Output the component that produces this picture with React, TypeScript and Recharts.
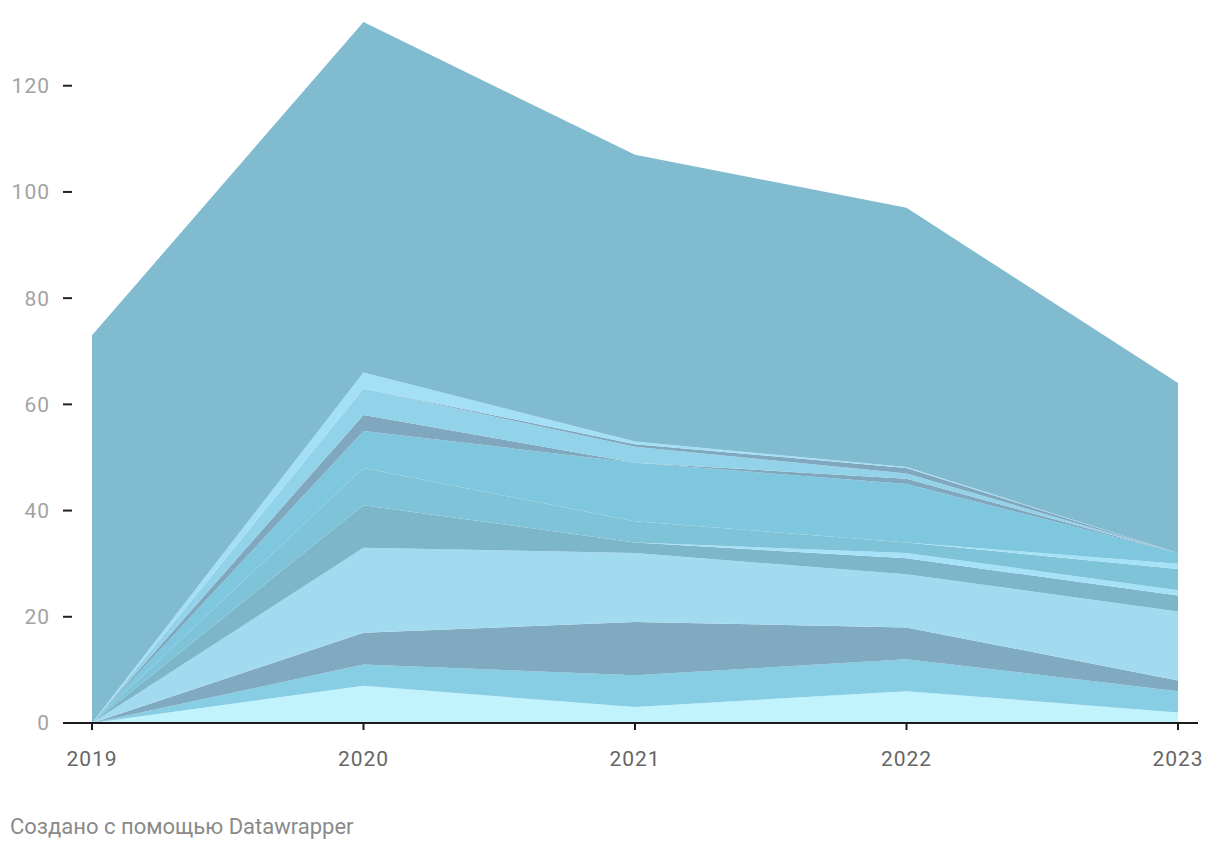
import { Area, AreaChart, XAxis, YAxis } from 'recharts';

const YEARS = ['2019', '2020', '2021', '2022', '2023'];

// stacked layers, bottom to top
const L1 = [0, 7, 3, 6, 2];
const L2 = [0, 4, 6, 6, 4];
const L3 = [0, 6, 10, 6, 2];
const L4 = [0, 16, 13, 10, 13];
const L5 = [0, 8, 2, 3, 3];
const L6 = [0, 0, 0, 1, 1];
const L7 = [0, 7, 4, 2, 4];
const L8 = [0, 0, 0, 0, 1];
const L9 = [0, 7, 11, 11, 2];
const L10 = [0, 3, 0, 1, 0];
const L11 = [0, 5, 3, 1, 0];
const L12 = [0, 0, 0.5, 1, 0];
const L13 = [0, 3, 0.5, 0.2, 0];
const L14 = [73, 66, 54, 48.8, 32];

const LAYERS = [L1, L2, L3, L4, L5, L6, L7, L8, L9, L10, L11, L12, L13, L14];
const COLORS = [
  '#c1f3fd',
  '#87cde4',
  '#7faac0',
  '#a2dbf0',
  '#7db5c9',
  '#a5e2f7',
  '#7fc3d8',
  '#a5e2f7',
  '#7ec7de',
  '#7fa8be',
  '#93d3ea',
  '#7fa8be',
  '#a3e0f6',
  '#80bbd0',
];

const Y_TICKS = [0, 20, 40, 60, 80, 100, 120];

const data = YEARS.map((year, i) => {
  const row: Record<string, string | number> = { year };
  LAYERS.forEach((layer, k) => {
    row['s' + k] = layer[i];
  });
  return row;
});

const YTick = (props: any) => {
  const { x, y, payload } = props;
  return (
    <g>
      <text
        x={x - 13}
        y={y}
        dy="0.35em"
        textAnchor="end"
        fill="#a3a3a3"
        fontSize={21}
        letterSpacing={1}
        fontFamily="Roboto"
      >
        {payload.value}
      </text>
      {payload.value !== 0 && <line x1={x} x2={x + 9} y1={y} y2={y} stroke="#222" strokeWidth={2} />}
    </g>
  );
};

export default function App() {
  return (
    <div style={{ position: 'relative', width: 1204, height: 834, fontFamily: 'Roboto' }}>
      <AreaChart width={1204} height={770} data={data} margin={{ top: 14, right: 14, bottom: 0, left: 0 }}>
        <XAxis
          dataKey="year"
          padding={{ left: 29, right: 20 }}
          axisLine={{ stroke: '#1a1a1a', strokeWidth: 2 }}
          tickLine={{ stroke: '#1a1a1a', strokeWidth: 2 }}
          tickSize={7}
          tickMargin={21}
          height={55}
          tick={{ fill: '#666', fontSize: 21, letterSpacing: 1, fontFamily: 'Roboto' }}
        />
        <YAxis
          width={55}
          domain={[0, 132]}
          ticks={Y_TICKS}
          axisLine={false}
          tickLine={false}
          tickSize={0}
          tickMargin={0}
          tick={<YTick />}
        />
        {LAYERS.map((_, k) => (
          <Area
            key={k}
            type="linear"
            dataKey={'s' + k}
            stackId="1"
            stroke="none"
            fill={COLORS[k]}
            fillOpacity={1}
            isAnimationActive={false}
          />
        ))}
      </AreaChart>
      <div style={{ position: 'absolute', left: 2, top: 806, fontSize: 22, lineHeight: '26px', color: '#8a8a8a' }}>
        Создано с помощью Datawrapper
      </div>
    </div>
  );
}
